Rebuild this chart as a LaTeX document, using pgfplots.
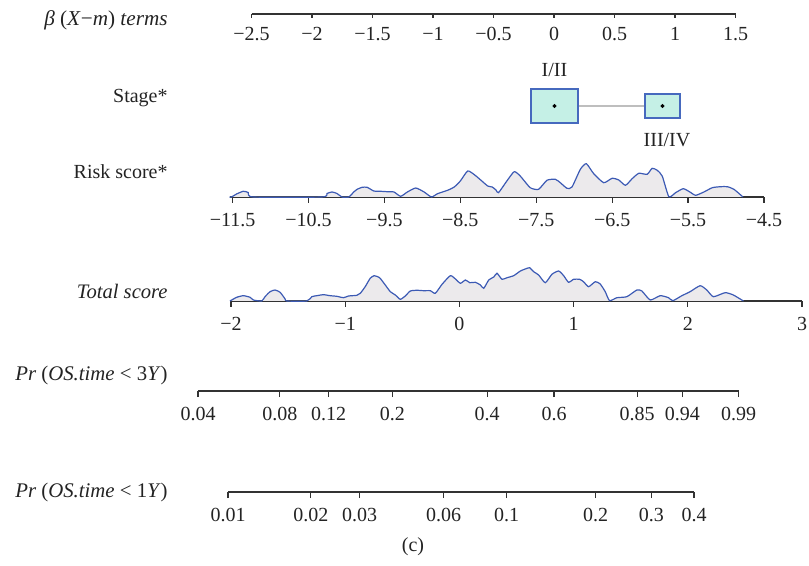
\documentclass[border=0pt]{standalone}
\usepackage{fontspec}
\setmainfont{Liberation Serif}
\usepackage{pgfplots}
\usepackage{pgfplotstable}
\pgfplotsset{compat=1.18}

\definecolor{densline}{RGB}{60,90,180}
\definecolor{densfill}{RGB}{236,234,236}
\definecolor{boxfill}{RGB}{197,240,230}
\definecolor{boxedge}{RGB}{70,105,190}
\definecolor{axiscol}{RGB}{50,50,50}
\definecolor{txtcol}{RGB}{35,35,35}
\definecolor{linkgray}{RGB}{190,190,190}

\pgfplotstableread{
x h
-11.54 0
-11.513 0
-11.447 3
-11.359 5.7
-11.293 4.5
-11.227 0
-10.322 0
-10.256 3.5
-10.190 5
-10.124 3.5
-10.058 0
-9.969 0
-9.903 5
-9.859 7.7
-9.793 9.7
-9.727 9.7
-9.639 6
-9.550 5.7
-9.462 5.3
-9.374 5
-9.286 0.7
-9.197 5
-9.087 9
-8.977 5
-8.880 0
-8.800 3.3
-8.668 6.7
-8.580 10
-8.500 16
-8.403 26
-8.315 22.3
-8.227 16.7
-8.139 11
-8.080 10
-8.030 7
-7.997 4.3
-7.887 16
-7.790 25.3
-7.711 21
-7.579 9.3
-7.469 7.7
-7.359 16.7
-7.249 17.7
-7.183 14.3
-7.095 8.7
-7.029 10
-6.919 27.7
-6.840 33.3
-6.743 23.3
-6.611 14.3
-6.501 18.7
-6.413 17
-6.325 11.7
-6.237 18.3
-6.149 23.7
-6.039 22.7
-5.973 28.7
-5.907 26.7
-5.841 21
-5.753 0.3
-5.665 4.3
-5.564 8.3
-5.476 5
-5.401 1.7
-5.292 5
-5.181 9.3
-5.072 10.3
-4.984 10.3
-4.896 7.7
-4.777 0
}\riskdens

\pgfplotstableread{
x h
-2.009 0
-1.950 3.7
-1.892 5.3
-1.833 3.7
-1.804 1
-1.731 0
-1.702 4.3
-1.658 9.3
-1.614 11
-1.570 8.7
-1.526 2
-1.512 0
-1.336 0
-1.292 4.3
-1.249 5.3
-1.190 6.3
-1.132 5.3
-1.073 4.7
-1.015 3.3
-0.971 5
-0.898 5.7
-0.868 7.7
-0.825 14.3
-0.781 22.7
-0.746 25.3
-0.699 23.3
-0.649 16
-0.605 9.3
-0.561 6
-0.518 1.7
-0.474 5
-0.430 10
-0.371 10.7
-0.313 10.3
-0.254 10.3
-0.211 7.7
-0.152 16.7
-0.079 25.3
-0.035 22
0.009 17.7
0.053 21
0.091 18.3
0.140 18.7
0.184 16
0.213 12.7
0.257 21
0.301 24
0.329 27.7
0.373 21.7
0.417 23.3
0.475 25.3
0.534 30
0.577 32
0.615 33.3
0.650 29.3
0.694 26
0.752 18.3
0.810 26.7
0.869 30
0.913 25.3
0.956 18.7
1.000 21.7
1.052 21.7
1.087 19.3
1.131 14.3
1.190 19.3
1.233 17
1.277 9.3
1.315 0.3
1.379 3.3
1.466 4.3
1.554 11
1.598 10
1.671 1
1.758 5.3
1.831 3.3
1.869 0.3
1.948 5.3
2.020 9.3
2.108 15.3
2.166 11
2.224 4.3
2.327 8.3
2.399 6
2.487 0
}\totaldens

\pgfplotsset{
  nomo/.style={
    scale only axis, anchor=south west, clip=false,
    axis x line*=bottom, axis y line=none,
    x axis line style={-, line width=0.65pt, draw=axiscol},
    tick align=outside, major tick length=3pt,
    every tick/.style={line width=0.6pt, draw=axiscol},
    xticklabel style={font=\fontsize{10}{12}\selectfont, text=txtcol, anchor=base, yshift=-11.8pt},
    minor tick num=0, ymin=0,
  }
}

\begin{document}
\begin{tikzpicture}[font=\fontsize{10}{12}\selectfont, text=txtcol]
\path[use as bounding box] (0,0) rectangle (404.5pt,-283pt);

% left labels
\begin{scope}[every node/.style={inner sep=0pt, anchor=east}]
\node[font=\fontsize{10.6}{12}\selectfont] at (84pt,-10pt) {\textit{β} (\textit{X}−\textit{m}) \textit{terms}};
\node at (84pt,-49pt) {Stage*};
\node at (84pt,-86pt) {Risk score*};
\node[font=\fontsize{10.3}{12}\selectfont] at (84pt,-145.5pt) {\textit{Total score}};
\node[font=\fontsize{10.4}{12}\selectfont] at (84pt,-187.5pt) {\textit{Pr} (\textit{OS.time} < 3\textit{Y})};
\node[font=\fontsize{10.4}{12}\selectfont] at (84pt,-246pt) {\textit{Pr} (\textit{OS.time} < 1\textit{Y})};
\end{scope}
\node at (206.5pt,-273.5pt) {(c)};

% beta axis
\begin{axis}[nomo, at={(125.75pt,-7pt)}, width=242pt, height=10pt,
  xmin=-2.5, xmax=1.5, ymax=1, major tick length=2pt,
  xticklabel style={yshift=0.5pt},
  xtick={-2.5,-2,-1.5,-1,-0.5,0,0.5,1,1.5},
  xticklabels={−2.5,−2,−1.5,−1,−0.5,0,0.5,1,1.5}]
\addplot[draw=none] coordinates {(-2.5,0) (1.5,0)};
\end{axis}

% stage
\begin{axis}[scale only axis, anchor=south west, clip=false, hide axis,
  at={(125.75pt,-68pt)}, width=242pt, height=30pt,
  xmin=-2.5, xmax=1.5, ymin=0, ymax=60]
\addplot[linkgray, line width=0.8pt] coordinates {(0.198,30) (0.752,30)};
\addplot[fill=boxfill, draw=boxedge, line width=0.7pt] coordinates {(-0.190,13) (0.198,13) (0.198,47) (-0.190,47)} -- cycle;
\addplot[fill=boxfill, draw=boxedge, line width=0.7pt] coordinates {(0.752,18) (1.041,18) (1.041,42) (0.752,42)} -- cycle;
\addplot[only marks, mark=*, mark size=0.8pt, black] coordinates {(0.004,30) (0.897,30)};
\node at (axis cs:0.004,66) {I/II};
\node at (axis cs:0.934,-4) {III/IV};
\end{axis}

% risk score
\begin{axis}[nomo, at={(114.75pt,-98.5pt)}, width=267.25pt, height=20pt,
  xmin=-11.54, xmax=-4.5, ymax=40,
  xtick={-11.5,-10.5,-9.5,-8.5,-7.5,-6.5,-5.5,-4.5},
  xticklabels={−11.5,−10.5,−9.5,−8.5,−7.5,−6.5,−5.5,−4.5}]
\addplot[fill=densfill, draw=none, smooth, tension=0.35] table[x=x,y=h] {\riskdens} \closedcycle;
\addplot[densline, line width=0.6pt, smooth, tension=0.35] table[x=x,y=h] {\riskdens};
\end{axis}

% total score
\begin{axis}[nomo, at={(115.5pt,-150.5pt)}, width=285.5pt, height=20pt,
  xmin=-2, xmax=3, ymax=40,
  xtick={-2,-1,0,1,2,3},
  xticklabels={−2,−1,0,1,2,3}]
\addplot[fill=densfill, draw=none, smooth, tension=0.35] table[x=x,y=h] {\totaldens} \closedcycle;
\addplot[densline, line width=0.6pt, smooth, tension=0.35] table[x=x,y=h] {\totaldens};
\end{axis}

% Pr 3Y
\begin{axis}[nomo, at={(99pt,-195.5pt)}, width=270.35pt, height=10pt,
  xmin=198, xmax=738.7, ymax=1,
  xtick={198,279.8,328.6,392.4,487.1,554,637.2,682.3,738.7},
  xticklabels={0.04,0.08,0.12,0.2,0.4,0.6,0.85,0.94,0.99}]
\addplot[draw=none] coordinates {(198,0) (738.7,0)};
\end{axis}

% Pr 1Y
\begin{axis}[nomo, at={(114pt,-246pt)}, width=233pt, height=10pt,
  xmin=228, xmax=694, ymax=1,
  xtick={228,310.8,359.5,443.5,506.7,595.7,651.3,694},
  xticklabels={0.01,0.02,0.03,0.06,0.1,0.2,0.3,0.4}]
\addplot[draw=none] coordinates {(228,0) (694,0)};
\end{axis}
\end{tikzpicture}
\end{document}
